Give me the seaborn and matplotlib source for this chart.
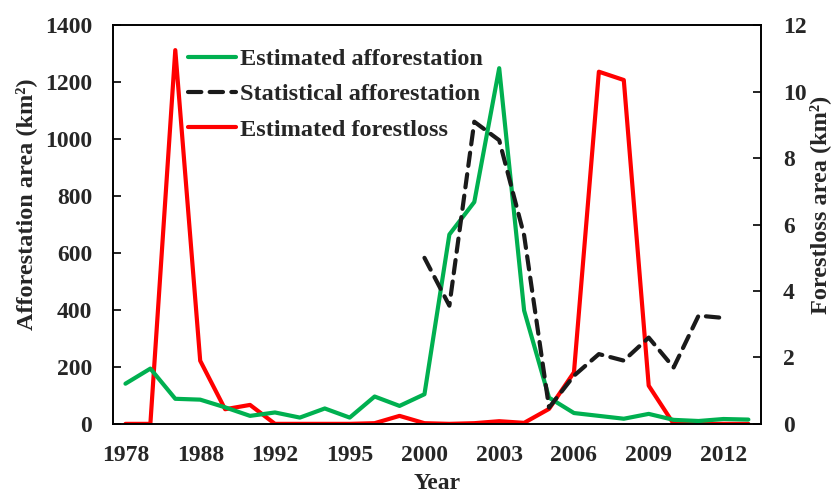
import matplotlib
matplotlib.use("Agg")
import matplotlib.pyplot as plt
import seaborn as sns
import numpy as np
import pandas as pd

years = ['1978', '1984', '1986', '1988', '1989', '1990', '1992', '1993', '1994',
         '1995', '1996', '1998', '2000', '2001', '2002', '2003', '2004', '2005',
         '2006', '2007', '2008', '2009', '2010', '2011', '2012', '2013']
estimated_afforestation = [141, 194, 88, 85, 58, 28, 40, 22, 54, 22, 96, 63, 104,
                           665, 779, 1249, 398, 92, 38, 28, 18, 35, 14, 10, 17, 15]
statistical_afforestation = [np.nan] * 12 + [583, 415, 1061, 996, 662, 57, 169,
                                             245, 222, 303, 198, 380, 372, np.nan]
estimated_forestloss = [0, 0, 11.25, 1.9, 0.44, 0.57, 0, 0, 0, 0, 0.02, 0.24, 0.02,
                        0, 0.02, 0.08, 0.03, 0.45, 1.55, 10.6, 10.35, 1.15, 0, 0, 0, 0]

label_years = years[::3]

sns.set_theme(style="white")
plt.rcParams['font.family'] = ['Liberation Serif', 'DejaVu Serif']
plt.rcParams['font.weight'] = 'bold'

df = pd.DataFrame({
    'idx': np.arange(len(years)),
    'est': estimated_afforestation,
    'stat': statistical_afforestation,
    'loss': estimated_forestloss,
})

fig = plt.figure(figsize=(8.37, 4.94), dpi=100)
ax = fig.add_axes([0.135, 0.142, 0.774, 0.807])
ax2 = ax.twinx()

green = '#00B050'
red = '#FF0000'
sns.lineplot(data=df, x='idx', y='est', ax=ax, color=green, linewidth=3.0,
             label='Estimated afforestation', legend=False)
sns.lineplot(data=df, x='idx', y='stat', ax=ax, color='#1a1a1a', linewidth=3.0,
             label='Statistical afforestation', legend=False)
ax.lines[-1].set_linestyle((0, (3.2, 2.0)))
ax.lines[-1].set_dash_capstyle('round')
sns.lineplot(data=df, x='idx', y='loss', ax=ax2, color=red, linewidth=3.0,
             label='Estimated forestloss', legend=False)

ax.set_xlim(-0.5, len(years) - 0.5)
ax.set_ylim(0, 1400)
ax2.set_ylim(0, 12)
ax.set_yticks(np.arange(0, 1401, 200))
ax2.set_yticks(np.arange(0, 13, 2))

# major ticks (marks only) between category groups; labels on minor positions
ax.set_xticks(np.arange(2.5, len(years) - 1, 3))
ax.set_xticklabels([])
ax.set_xticks(np.arange(0, len(years), 3), minor=True)
ax.set_xticklabels(label_years, minor=True)
ax.tick_params(axis='x', which='minor', length=0, pad=15, labelsize=17)
ax.tick_params(axis='x', which='major', direction='in', length=6, width=1.2, color='black')
ax.tick_params(axis='y', direction='in', length=6, width=1.2, color='black',
               pad=15, labelsize=17, left=True)
ax2.tick_params(axis='y', direction='in', length=6, width=1.2, color='black',
                pad=16, labelsize=17, right=True)

for a in (ax, ax2):
    for s in a.spines.values():
        s.set_color('black')
        s.set_linewidth(1.2)
    for lbl in a.get_xticklabels(minor=True) + a.get_yticklabels():
        lbl.set_fontweight('bold')

ax.set_xlabel('Year', fontsize=17, fontweight='bold', labelpad=5)
ax.set_ylabel('Afforestation area (km²)', fontsize=17.5, fontweight='bold')
ax2.set_ylabel('Forestloss area (km²)', fontsize=17.5, fontweight='bold')
ax.yaxis.set_label_coords(-0.118, 0.55)
ax2.yaxis.set_label_coords(1.075, 0.55)

h1, l1 = ax.get_legend_handles_labels()
h2, l2 = ax2.get_legend_handles_labels()
leg = ax.legend(h1 + h2, l1 + l2, loc='upper left', bbox_to_anchor=(0.1, 0.967),
                frameon=False, fontsize=17.5, handlelength=2.0, handletextpad=0.15,
                labelspacing=0.55, borderaxespad=0)
for t in leg.get_texts():
    t.set_fontweight('bold')
leg.set_zorder(5)
ax.set_zorder(ax2.get_zorder() + 1)
ax.patch.set_visible(False)

fig.savefig('out.png', dpi=100)
